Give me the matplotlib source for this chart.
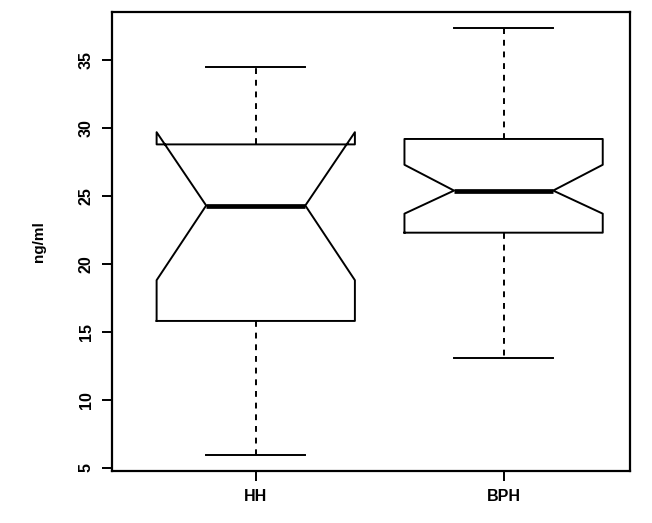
import matplotlib.pyplot as plt

groups = ["HH", "BPH"]
lower_whisker = [5.9, 13.1]
q1 = [15.8, 22.3]
median = [24.3, 25.4]
q3 = [28.8, 29.2]
upper_whisker = [34.5, 37.4]
notch_low = [18.8, 23.7]
notch_high = [29.7, 27.3]

plt.rcParams['font.family'] = ['Liberation Sans', 'DejaVu Sans']

stats = []
for i, g in enumerate(groups):
    stats.append(dict(label=g, whislo=lower_whisker[i], q1=q1[i], med=median[i],
                      q3=q3[i], whishi=upper_whisker[i], cilo=notch_low[i],
                      cihi=notch_high[i], fliers=[]))

fig = plt.figure(figsize=(6.52, 5.23), dpi=100)
ax = fig.add_axes([112 / 652, 1 - 471 / 523, 518 / 652, 459 / 523])

ax.bxp(stats, positions=[1, 2], widths=0.8, shownotches=True, showfliers=False,
       boxprops=dict(color='black', lw=1.4),
       whiskerprops=dict(color='black', lw=1.4, linestyle=(0, (3, 3))),
       capprops=dict(color='black', lw=1.4),
       medianprops=dict(color='black', lw=3.4, solid_capstyle='butt'))

ax.set_xlim(0.42, 2.51)
ax.set_ylim(4.75, 38.55)
ax.set_yticks([5, 10, 15, 20, 25, 30, 35])
ax.set_xticks([1, 2])
ax.set_xticklabels(groups, fontsize=11.5, fontweight='bold')
for lab in ax.get_yticklabels():
    lab.set_rotation(90)
    lab.set_va('center')
    lab.set_fontsize(11.5)
    lab.set_fontweight('bold')
ax.tick_params(axis='both', length=7, width=1.4, pad=6)
ax.set_ylabel("ng/ml", fontsize=11, fontweight='bold', labelpad=24)
for s in ax.spines.values():
    s.set_linewidth(1.6)

fig.savefig("out.png", dpi=100)
